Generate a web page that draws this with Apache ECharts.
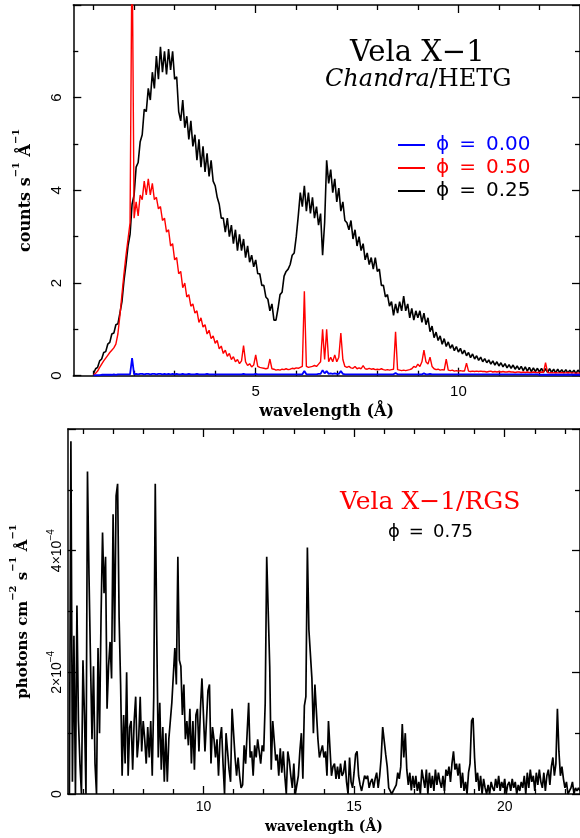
<!DOCTYPE html>
<html>
<head>
<meta charset="utf-8">
<script src="https://cdn.jsdelivr.net/npm/echarts@6/dist/echarts.min.js"></script>
<style>
html, body { margin: 0; padding: 0; background: #fff; }
#chart { width: 580px; height: 838px; }
</style>
</head>
<body>
<div id="chart"></div>
<script>
// Chandra/HETG spectra, 0.05 A bins from 1.00 A (counts s-1 A-1)
var hetgStart = 1.0;
var hetgStep = 0.05;
var hetgPhase025 = [
    0.05,0.15,0.18,0.32,0.36,0.5,0.52,0.68,0.72,0.9,0.92,1.1,1.12,1.35,1.6,2.05,2.4,2.8,3.05,3.7,
    3.9,4.5,4.6,5.05,5.2,5.75,5.7,6.2,5.95,6.55,6.2,6.9,6.4,7.1,6.55,7.0,6.5,7.05,6.6,7.0,
    6.4,6.45,5.7,5.5,5.95,5.35,5.6,5.1,5.5,4.95,5.2,4.65,5.1,4.5,4.95,4.4,4.8,4.3,4.65,4.2,
    4.1,3.85,3.7,3.4,3.4,3.1,3.4,3.0,3.25,2.85,3.15,2.7,3.05,2.7,2.95,2.55,2.8,2.45,2.6,2.35,
    2.5,2.2,2.2,1.95,1.95,1.7,1.65,1.4,1.55,1.2,1.2,1.45,1.75,1.8,2.15,2.25,2.3,2.4,2.6,2.65,
    3.0,3.45,3.95,3.65,4.1,3.55,3.95,3.5,3.85,3.4,3.65,3.25,3.5,2.6,3.3,4.65,4.15,4.45,3.95,4.25,
    3.75,4.05,3.55,3.75,3.35,3.3,3.15,3.35,2.95,3.15,2.8,3.0,2.7,2.85,2.5,2.65,2.4,2.55,2.3,2.55,
    2.25,2.3,1.95,1.95,1.7,1.75,1.5,1.6,1.3,1.55,1.35,1.6,1.4,1.72,1.4,1.55,1.25,1.45,1.2,1.4,
    1.25,1.4,1.15,1.35,1.1,1.25,0.95,1.07,0.82,0.94,0.76,0.86,0.68,0.8,0.63,0.73,0.59,0.67,0.54,0.63,
    0.51,0.59,0.47,0.55,0.43,0.5,0.39,0.47,0.36,0.43,0.33,0.4,0.3,0.37,0.28,0.34,0.25,0.32,0.23,0.3,
    0.21,0.28,0.19,0.26,0.17,0.24,0.16,0.23,0.14,0.21,0.13,0.2,0.11,0.19,0.1,0.18,0.09,0.17,0.09,0.16,
    0.08,0.16,0.08,0.15,0.07,0.15,0.07,0.14,0.06,0.14,0.07,0.13,0.06,0.13,0.06,0.12,0.06,0.12,0.05,0.12,
    0.07
];
var hetgPhase050 = [
    0.02,0.05,0.1,0.18,0.25,0.32,0.38,0.44,0.5,0.55,0.6,0.68,0.9,1.3,1.75,2.2,2.6,2.95,3.3,9.5,
    3.4,3.75,3.45,3.9,3.8,4.2,3.9,4.25,3.9,4.15,3.8,3.85,3.6,3.65,3.35,3.4,3.1,3.15,2.8,2.85,
    2.5,2.55,2.2,2.25,1.9,2.0,1.7,1.75,1.5,1.55,1.35,1.4,1.15,1.25,1.05,1.1,0.9,0.98,0.8,0.86,
    0.7,0.76,0.58,0.64,0.48,0.55,0.42,0.48,0.35,0.41,0.3,0.35,0.26,0.32,0.65,0.3,0.22,0.26,0.19,0.23,
    0.45,0.2,0.18,0.17,0.16,0.15,0.16,0.36,0.15,0.14,0.12,0.13,0.12,0.14,0.13,0.15,0.13,0.14,0.16,0.15,
    0.17,0.16,0.18,0.2,1.82,0.2,0.18,0.19,0.2,0.22,0.2,0.25,0.3,1.0,0.35,1.0,0.3,0.4,0.3,0.45,
    0.3,0.4,0.92,0.35,0.2,0.18,0.2,0.17,0.16,0.2,0.15,0.17,0.15,0.22,0.15,0.14,0.16,0.14,0.15,0.13,
    0.14,0.13,0.15,0.13,0.12,0.13,0.12,0.13,0.14,0.95,0.13,0.12,0.11,0.12,0.11,0.12,0.13,0.15,0.2,0.18,
    0.25,0.2,0.3,0.55,0.3,0.25,0.4,0.2,0.15,0.13,0.14,0.12,0.13,0.12,0.36,0.12,0.11,0.12,0.1,0.11,
    0.1,0.11,0.1,0.1,0.27,0.1,0.09,0.1,0.09,0.1,0.09,0.1,0.09,0.09,0.08,0.09,0.1,0.08,0.09,0.08,
    0.09,0.08,0.09,0.08,0.08,0.09,0.08,0.08,0.07,0.08,0.08,0.07,0.08,0.07,0.08,0.07,0.07,0.08,0.07,0.07,
    0.07,0.08,0.07,0.28,0.07,0.06,0.07,0.06,0.07,0.06,0.06,0.07,0.06,0.06,0.07,0.06,0.06,0.06,0.05,0.06,
    0.05
];
var hetgPhase000 = [
    0.0,0.01,0.01,0.01,0.02,0.02,0.02,0.02,0.02,0.02,0.03,0.02,0.03,0.03,0.03,0.03,0.03,0.03,0.03,0.38,
    0.03,0.04,0.03,0.04,0.04,0.03,0.04,0.04,0.03,0.04,0.04,0.03,0.04,0.04,0.03,0.04,0.03,0.04,0.03,0.04,
    0.03,0.04,0.03,0.03,0.04,0.03,0.03,0.04,0.03,0.03,0.03,0.04,0.03,0.03,0.03,0.03,0.04,0.03,0.03,0.03,
    0.03,0.03,0.03,0.03,0.03,0.03,0.03,0.03,0.03,0.03,0.03,0.03,0.03,0.03,0.04,0.03,0.03,0.03,0.03,0.03,
    0.04,0.03,0.03,0.03,0.03,0.03,0.03,0.03,0.03,0.03,0.03,0.03,0.03,0.03,0.03,0.03,0.03,0.03,0.03,0.03,
    0.03,0.03,0.03,0.03,0.1,0.03,0.03,0.03,0.03,0.03,0.03,0.04,0.04,0.12,0.05,0.1,0.04,0.05,0.04,0.05,
    0.04,0.04,0.1,0.04,0.03,0.03,0.03,0.03,0.03,0.03,0.03,0.03,0.03,0.03,0.03,0.03,0.03,0.03,0.03,0.03,
    0.03,0.03,0.03,0.03,0.03,0.03,0.03,0.03,0.03,0.06,0.03,0.03,0.03,0.03,0.03,0.03,0.03,0.03,0.03,0.03,
    0.03,0.03,0.03,0.05,0.03,0.03,0.04,0.03,0.03,0.03,0.03,0.03,0.03,0.03,0.03,0.03,0.03,0.03,0.03,0.03,
    0.03,0.03,0.03,0.03,0.03,0.03,0.03,0.03,0.03,0.03,0.03,0.03,0.03,0.03,0.03,0.03,0.03,0.03,0.03,0.03,
    0.03,0.03,0.03,0.03,0.03,0.03,0.03,0.03,0.03,0.03,0.03,0.03,0.03,0.03,0.03,0.03,0.03,0.03,0.03,0.03,
    0.02,0.02,0.02,0.02,0.02,0.02,0.02,0.02,0.02,0.02,0.02,0.02,0.02,0.02,0.02,0.02,0.02,0.02,0.02,0.02,
    0.02
];
var hetgMajorTicks = [5, 10];
var hetgMinorTicks = [1, 2, 3, 4, 6, 7, 8, 9, 11, 12, 13];

// XMM/RGS spectrum, 0.05 A bins from 5.55 A (units of 1e-4 photons cm-2 s-1 A-1)
var rgsStart = 5.55;
var rgsStep = 0.05;
var rgsPhase075 = [
    0.0,5.8,0.2,2.6,0.0,3.1,1.2,0.5,0.0,
    2.2,1.3,0.0,5.3,3.6,2.2,0.9,2.1,0.5,0.0,2.4,1.0,2.9,4.3,3.3,3.9,1.4,2.1,2.5,1.9,
    4.6,2.5,4.9,5.1,2.9,1.8,0.3,1.3,0.5,2.0,0.3,1.1,1.2,0.4,1.2,1.6,0.6,0.9,1.6,0.7,
    1.2,0.9,0.5,1.1,0.6,1.2,0.3,1.6,5.1,2.6,0.6,1.5,0.4,1.1,0.2,1.0,0.2,0.9,1.2,1.5,
    1.5,2.4,1.8,3.9,2.2,2.1,1.3,1.8,0.9,1.2,0.8,1.4,0.5,1.2,0.4,1.3,1.4,0.7,1.4,1.9,
    1.9,0.7,0.7,1.7,1.8,0.5,1.1,0.9,0.6,0.9,0.3,0.9,1.1,0.5,0.0,1.0,0.7,0.4,0.2,1.4,
    1.4,0.6,0.3,0.6,0.3,0.1,0.15,0.8,0.5,1.0,1.5,0.6,0.7,0.3,0.8,0.6,0.9,0.9,0.5,0.8,
    0.7,1.5,3.9,3.9,2.1,0.4,1.2,1.2,0.55,0.65,0.3,0.75,0.35,0.7,0.3,0.0,0.7,0.55,0.3,0.1,
    0.5,0.0,0.0,0.3,0.7,1.0,0.25,1.45,1.6,4.05,2.7,2.7,1.9,1.0,1.8,1.8,0.9,0.6,0.7,0.8,
    0.6,0.7,0.3,1.2,1.2,0.3,0.45,0.5,0.25,0.45,0.25,0.5,0.3,0.35,0.55,0.2,0.0,0.6,0.2,0.1,
    0.35,0.65,0.7,0.3,0.15,0.05,0.03,0.3,0.25,0.3,0.1,0.2,0.25,0.1,0.25,0.35,0.1,0.3,0.6,1.1,
    1.1,0.65,0.45,0.1,0.05,0.0,0.05,0.1,0.15,0.35,0.25,0.45,1.15,0.6,1.0,0.4,0.15,0.35,0.06,0.3,
    0.1,0.3,0.05,0.2,0.0,0.4,0.25,0.1,0.4,0.0,0.35,0.1,0.3,0.05,0.4,0.15,0.35,0.2,0.1,0.3,
    0.05,0.4,0.3,0.45,0.2,0.5,0.7,0.4,0.5,0.3,0.5,0.1,0.35,0.05,0.2,0.0,0.35,0.5,1.2,1.25,
    0.6,0.2,0.35,0.05,0.3,0.0,0.25,0.1,0.0,0.15,0.0,0.2,0.1,0.05,0.25,0.1,0.3,0.05,0.2,0.1,
    0.25,0.0,0.15,0.2,0.05,0.25,0.1,0.2,0.0,0.15,0.05,0.2,0.1,0.3,0.0,0.35,0.1,0.4,0.2,0.3,
    0.05,0.35,0.15,0.4,0.2,0.1,0.35,0.05,0.3,0.4,0.15,0.45,0.6,0.3,0.5,1.4,0.7,0.3,0.45,0.25,
    0.1,0.2,0.0,0.05,0.1,0.2,0.0,0.1,0.05,0.1,0.05
];
var rgsMajorTicks = [10, 15, 20];
var rgsMinorTicks = [6, 7, 8, 9, 11, 12, 13, 14, 16, 17, 18, 19, 21, 22];

// bin centre + value pairs
function toPairs(start, step, vals) {
    return vals.map(function (v, i) {
        return [Math.round((start + i * step) * 100) / 100, v];
    });
}

var frameStyle = { color: '#000', width: 1.5 };
var tickStyle = { color: '#000', width: 1.3 };
var serif = 'DejaVu Serif';
var sans = 'Liberation Sans';

function xAxisSet(grid, min, max, major, minor, labelSize, labelMargin, nameSize, nameGap) {
    function one(pos, ticks, len, main) {
        var a = {
            gridIndex: grid, type: 'value', min: min, max: max, position: pos,
            splitLine: { show: false },
            axisLine: { show: len === 8, onZero: false, lineStyle: frameStyle },
            axisTick: { show: true, inside: true, length: len, customValues: ticks, lineStyle: tickStyle },
            axisLabel: {
                show: main, customValues: major, margin: labelMargin,
                color: '#000', fontFamily: sans, fontSize: labelSize
            }
        };
        if (main) {
            a.name = 'wavelength (Å)';
            a.nameLocation = 'middle';
            a.nameGap = nameGap;
            a.nameTextStyle = { color: '#000', fontFamily: serif, fontWeight: 'bold', fontSize: nameSize };
        }
        return a;
    }
    return [one('bottom', major, 8, true), one('bottom', minor, 5, false),
            one('top', major, 8, false), one('top', minor, 5, false)];
}

function yAxisSet(grid, max, label) {
    var left = {
        gridIndex: grid, type: 'value', min: 0, max: max, interval: 2, position: 'left',
        splitLine: { show: false },
        axisLine: { show: true, onZero: false, lineStyle: frameStyle },
        axisTick: { inside: true, length: 8, lineStyle: tickStyle },
        minorTick: { show: true, splitNumber: 2, length: 5, lineStyle: tickStyle },
        axisLabel: label.axisLabel,
        name: label.name, nameLocation: 'middle', nameRotate: 90, nameGap: label.nameGap,
        nameTextStyle: label.nameTextStyle
    };
    var right = {
        gridIndex: grid, type: 'value', min: 0, max: max, interval: 2, position: 'right',
        splitLine: { show: false },
        axisLine: { show: true, onZero: false, lineStyle: frameStyle },
        axisTick: { inside: true, length: 8, lineStyle: tickStyle },
        minorTick: { show: true, splitNumber: 2, length: 5, lineStyle: tickStyle },
        axisLabel: { show: false }
    };
    return [left, right];
}

var supStyle = function (size) {
    return { fontSize: size, lineHeight: size, verticalAlign: 'top', fontFamily: serif, fontWeight: 'bold', color: '#000' };
};

var hetgY = yAxisSet(0, 8, {
    axisLabel: { rotate: 90, showMaxLabel: false, margin: 9, color: '#000', fontFamily: sans, fontSize: 15 },
    name: 'counts s{s|−1} Å{s|−1}', nameGap: 32,
    nameTextStyle: { color: '#000', fontFamily: serif, fontWeight: 'bold', fontSize: 16, lineHeight: 30,
        rich: { s: supStyle(10) } }
});
var rgsY = yAxisSet(1, 6, {
    axisLabel: {
        rotate: 90, showMaxLabel: false, margin: 0,
        formatter: function (v) { return v === 0 ? '{n|0}' : '{n|' + v + '×10}{s|−4}'; },
        rich: {
            n: { fontFamily: sans, fontSize: 14, lineHeight: 22, color: '#000' },
            s: { fontFamily: sans, fontSize: 10, lineHeight: 10, verticalAlign: 'top', color: '#000' }
        }
    },
    name: 'photons cm{s|−2} s{s|−1} Å{s|−1}', nameGap: 26,
    nameTextStyle: { color: '#000', fontFamily: serif, fontWeight: 'bold', fontSize: 15, lineHeight: 30,
        rich: { s: supStyle(10) } }
});

var chart = echarts.init(document.getElementById('chart'));
chart.setOption({
    animation: false,
    backgroundColor: '#fff',
    title: [
        { text: 'Vela X−1', left: 350, top: 39, padding: 0,
          textStyle: { fontFamily: serif, fontWeight: 'normal', fontSize: 29, color: '#000' } },
        { text: '{it|Chandra}/HETG', left: 325, top: 68, padding: 0,
          textStyle: { fontFamily: serif, fontWeight: 'normal', fontSize: 24, color: '#000',
                       rich: { it: { fontFamily: serif, fontStyle: 'italic', fontSize: 24, color: '#000' } } } },
        { text: 'Vela X−1/RGS', left: 340, top: 490, padding: 0,
          textStyle: { fontFamily: serif, fontWeight: 'normal', fontSize: 25, color: '#f00' } },
        { text: 'ϕ\u2002=\u20020.75', left: 388, top: 523, padding: 0,
          textStyle: { fontFamily: 'DejaVu Sans', fontWeight: 'normal', fontSize: 18, color: '#000' } }
    ],
    legend: {
        orient: 'vertical', left: 398, top: 135, padding: 0,
        itemWidth: 27, itemHeight: 2, itemGap: 3, icon: 'rect', selectedMode: false,
        textStyle: { fontFamily: 'DejaVu Sans', fontSize: 20, lineHeight: 20, padding: [0, 0, 0, 6] },
        data: [
            { name: 'ϕ\u2002=\u20020.00', textStyle: { color: '#00f' } },
            { name: 'ϕ\u2002=\u20020.50', textStyle: { color: '#f00' } },
            { name: 'ϕ\u2002=\u20020.25', textStyle: { color: '#000' } }
        ]
    },
    grid: [
        { left: 73.3, right: -3.3, top: 5, bottom: 462.3 },
        { left: 65.7, right: -4, top: 429, bottom: 44 }
    ],
    xAxis: xAxisSet(0, 0.5, 13, hetgMajorTicks, hetgMinorTicks, 15, 9, 16, 28)
        .concat(xAxisSet(1, 5.5, 22.5, rgsMajorTicks, rgsMinorTicks, 14, 6, 14, 26)),
    yAxis: hetgY.concat(rgsY),
    series: [
        { name: 'ϕ\u2002=\u20020.25', type: 'line', xAxisIndex: 0, yAxisIndex: 0, symbol: 'none',
          data: toPairs(hetgStart, hetgStep, hetgPhase025),
          itemStyle: { color: '#000' }, lineStyle: { color: '#000', width: 1.6 } },
        { name: 'ϕ\u2002=\u20020.50', type: 'line', xAxisIndex: 0, yAxisIndex: 0, symbol: 'none',
          data: toPairs(hetgStart, hetgStep, hetgPhase050),
          itemStyle: { color: '#f00' }, lineStyle: { color: '#f00', width: 1.4 } },
        { name: 'ϕ\u2002=\u20020.00', type: 'line', xAxisIndex: 0, yAxisIndex: 0, symbol: 'none',
          data: toPairs(hetgStart, hetgStep, hetgPhase000),
          itemStyle: { color: '#00f' }, lineStyle: { color: '#00f', width: 1.8 } },
        { name: 'RGS', type: 'line', xAxisIndex: 4, yAxisIndex: 2, symbol: 'none',
          data: toPairs(rgsStart, rgsStep, rgsPhase075),
          itemStyle: { color: '#000' }, lineStyle: { color: '#000', width: 1.7 } }
    ]
});
window.addEventListener('resize', function () {
    chart.resize();
});
</script>
</body>
</html>
